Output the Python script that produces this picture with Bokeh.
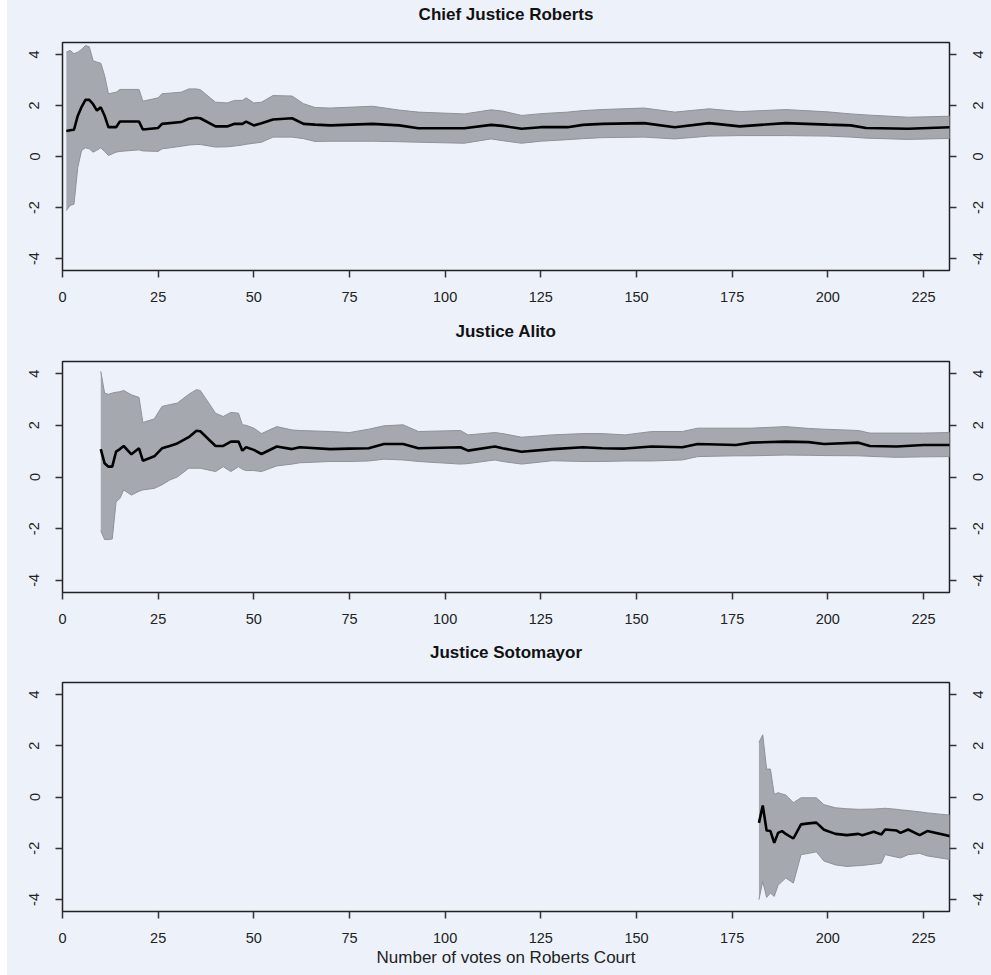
import math
from bokeh.plotting import figure
from bokeh.layouts import column, row
from bokeh.models import Range1d, LinearAxis, FixedTicker, Spacer
from bokeh.core.properties import value
from bokeh.embed import file_html
from bokeh.resources import INLINE

# ---------------- data ----------------
roberts_x = [1, 2, 3, 4, 5, 6, 7, 8, 9, 10, 11, 12, 14, 15, 20, 21, 25, 26, 31, 33, 35, 36,
             40, 43, 45, 47, 48, 50, 52, 55, 60, 63, 66, 70, 81, 88, 93, 105, 112, 115, 120,
             125, 132, 136, 141, 152, 160, 169, 177, 189, 200, 206, 210, 221, 232]
roberts_mean = [1.0, 1.03, 1.05, 1.6, 1.95, 2.22, 2.22, 2.05, 1.8, 1.93, 1.6, 1.15, 1.15, 1.37,
                1.37, 1.06, 1.12, 1.28, 1.35, 1.48, 1.52, 1.5, 1.18, 1.18, 1.28, 1.28, 1.37,
                1.22, 1.3, 1.45, 1.5, 1.28, 1.25, 1.22, 1.28, 1.22, 1.11, 1.11, 1.24, 1.2, 1.09,
                1.15, 1.15, 1.24, 1.28, 1.31, 1.15, 1.31, 1.18, 1.31, 1.25, 1.22, 1.12, 1.09, 1.15]
roberts_hi = [4.09, 4.16, 4.03, 4.09, 4.2, 4.35, 4.3, 3.76, 3.7, 3.66, 3.18, 2.46, 2.52, 2.63,
              2.63, 2.17, 2.3, 2.46, 2.52, 2.65, 2.65, 2.62, 2.13, 2.1, 2.2, 2.2, 2.3, 2.1,
              2.13, 2.39, 2.37, 2.07, 1.92, 1.9, 1.97, 1.82, 1.74, 1.67, 1.83, 1.78, 1.61,
              1.68, 1.74, 1.8, 1.84, 1.9, 1.74, 1.87, 1.76, 1.84, 1.75, 1.67, 1.63, 1.54, 1.58]
roberts_lo = [-2.12, -1.92, -1.87, -0.42, 0.24, 0.34, 0.3, 0.17, 0.25, 0.34, 0.2, 0.04, 0.17,
              0.2, 0.26, 0.22, 0.2, 0.3, 0.4, 0.45, 0.47, 0.47, 0.37, 0.38, 0.41, 0.45, 0.48,
              0.52, 0.56, 0.76, 0.76, 0.7, 0.59, 0.6, 0.6, 0.58, 0.56, 0.52, 0.69, 0.62, 0.52,
              0.6, 0.66, 0.7, 0.74, 0.76, 0.69, 0.8, 0.82, 0.82, 0.8, 0.76, 0.72, 0.67, 0.71]

alito_x = [10, 11, 12, 13, 14, 15, 16, 18, 20, 21, 24, 26, 28, 30, 33, 35, 36, 40, 42, 44, 46,
           47, 48, 50, 52, 56, 60, 62, 70, 75, 80, 84, 89, 93, 104, 106, 113, 115, 120, 128,
           136, 141, 147, 154, 162, 166, 176, 180, 189, 195, 199, 208, 211, 218, 225, 232]
alito_mean = [1.08, 0.53, 0.4, 0.4, 0.98, 1.08, 1.2, 0.88, 1.11, 0.63, 0.8, 1.11, 1.2, 1.3,
              1.54, 1.79, 1.77, 1.2, 1.2, 1.37, 1.37, 1.02, 1.15, 1.05, 0.89, 1.18, 1.08, 1.15,
              1.08, 1.1, 1.11, 1.28, 1.28, 1.11, 1.15, 1.02, 1.18, 1.11, 0.98, 1.08, 1.15, 1.11,
              1.1, 1.18, 1.15, 1.28, 1.24, 1.33, 1.37, 1.35, 1.28, 1.33, 1.2, 1.18, 1.24, 1.24]
alito_hi = [4.09, 3.25, 3.2, 3.25, 3.28, 3.3, 3.35, 3.18, 3.08, 2.11, 2.25, 2.73, 2.8, 2.86,
            3.2, 3.38, 3.35, 2.47, 2.34, 2.5, 2.47, 2.02, 2.0, 1.89, 1.68, 1.95, 1.82, 1.8,
            1.76, 1.72, 1.85, 1.98, 2.02, 1.76, 1.8, 1.63, 1.72, 1.68, 1.54, 1.63, 1.68, 1.68,
            1.63, 1.76, 1.76, 1.89, 1.89, 1.89, 1.95, 1.88, 1.85, 1.8, 1.7, 1.7, 1.7, 1.72]
alito_lo = [-2.08, -2.42, -2.42, -2.4, -0.96, -0.83, -0.5, -0.7, -0.55, -0.5, -0.44, -0.3,
            -0.12, 0.0, 0.34, 0.34, 0.34, 0.21, 0.4, 0.21, 0.4, 0.3, 0.25, 0.25, 0.21, 0.43,
            0.5, 0.55, 0.6, 0.6, 0.62, 0.69, 0.66, 0.6, 0.5, 0.52, 0.66, 0.6, 0.5, 0.63, 0.6,
            0.6, 0.62, 0.62, 0.66, 0.79, 0.82, 0.82, 0.85, 0.84, 0.83, 0.82, 0.8, 0.76, 0.78, 0.79]

soto_x = [182, 183, 184, 185, 186, 187, 188, 189, 191, 193, 195, 197, 199, 202, 205, 208, 209,
          212, 214, 215, 218, 219, 221, 224, 226, 232]
soto_mean = [-1.01, -0.33, -1.31, -1.33, -1.79, -1.4, -1.33, -1.44, -1.62, -1.07, -1.03, -1.0,
             -1.28, -1.44, -1.49, -1.44, -1.49, -1.36, -1.46, -1.27, -1.31, -1.4, -1.27, -1.49,
             -1.33, -1.53]
soto_hi = [2.13, 2.43, 1.09, 1.09, 0.1, 0.17, 0.12, 0.08, -0.22, -0.03, -0.03, -0.03, -0.3,
           -0.42, -0.46, -0.48, -0.48, -0.47, -0.45, -0.44, -0.48, -0.5, -0.53, -0.58, -0.62, -0.71]
soto_lo = [-4.01, -3.29, -3.92, -3.75, -3.88, -3.45, -3.3, -3.16, -3.36, -2.25, -2.2, -2.14,
           -2.5, -2.65, -2.71, -2.68, -2.67, -2.62, -2.58, -2.25, -2.35, -2.38, -2.25, -2.2,
           -2.3, -2.44]

x_ticks = [0, 25, 50, 75, 100, 125, 150, 175, 200, 225]
y_ticks = [-4, -2, 0, 2, 4]
y_tick_labels = ["-4", "-2", "0", "2", "4"]
panel_titles = ["Chief Justice Roberts", "Justice Alito", "Justice Sotomayor"]
x_axis_title = "Number of votes on Roberts Court"

# ---------------- styling ----------------
BG = "#edf2fa"
FONT = "Liberation Sans"
TXT = "#222222"
BAND = "#a5a9af"
BAND_EDGE = "#8e9297"
X_MAX = 231.8
Y_LIM = 4.47
MAIN_W = 956      # main figure width (frame 62..949 on the page)
RIGHT_W = 28      # strip holding the right-hand tick labels


def style_axis(ax, standoff):
    ax.axis_line_color = None
    ax.major_tick_out = 7
    ax.major_tick_in = 0
    ax.minor_tick_out = 0
    ax.minor_tick_in = 0
    ax.major_tick_line_color = "#333333"
    ax.major_tick_line_width = 1.5
    ax.major_label_text_font = FONT
    ax.major_label_text_font_size = "14.5px"
    ax.major_label_text_color = TXT
    ax.major_label_standoff = standoff


def blank_fig(width, height, xr, yr, left, right, top, bottom):
    f = figure(width=width, height=height, x_range=xr, y_range=yr,
               x_axis_type=None, y_axis_type=None,
               output_backend="svg", toolbar_location=None,
               min_border_left=left, min_border_right=right,
               min_border_top=top, min_border_bottom=bottom)
    f.background_fill_color = BG
    f.border_fill_color = BG
    f.outline_line_color = None
    f.grid.visible = False
    return f


def title_strip(title, height):
    t = blank_fig(MAIN_W + RIGHT_W, height, Range1d(0, X_MAX), Range1d(0, 1), 55, 42, 0, 0)
    t.text(x=[X_MAX / 2], y=[0.5], text=[title], text_align="center", text_baseline="middle",
           text_font=value(FONT), text_font_size=value("17px"), text_font_style="bold",
           text_color="#111111")
    return t


def make_panel(xs, mean, lo, hi, height, top, bottom, xlabel=None):
    yr = Range1d(-Y_LIM, Y_LIM)
    p = figure(width=MAIN_W, height=height,
               x_range=Range1d(0, X_MAX), y_range=yr,
               output_backend="svg", toolbar_location=None,
               min_border_left=55, min_border_right=14,
               min_border_top=top, min_border_bottom=bottom)
    p.background_fill_color = BG
    p.border_fill_color = BG
    p.outline_line_color = "#222222"
    p.outline_line_width = 1.5
    p.grid.visible = False

    p.varea(x=xs, y1=lo, y2=hi, fill_color=BAND, fill_alpha=1.0)
    p.line(xs, hi, line_color=BAND_EDGE, line_width=1)
    p.line(xs, lo, line_color=BAND_EDGE, line_width=1)
    p.line(xs, mean, line_color="black", line_width=2.6)

    xa = p.xaxis[0]
    xa.ticker = FixedTicker(ticks=x_ticks)
    style_axis(xa, 14)
    if xlabel:
        xa.axis_label = xlabel
        xa.axis_label_text_font = FONT
        xa.axis_label_text_font_size = "17px"
        xa.axis_label_text_font_style = "normal"
        xa.axis_label_text_color = TXT
        xa.axis_label_standoff = 2

    ya = p.yaxis[0]
    ya.ticker = FixedTicker(ticks=y_ticks)
    style_axis(ya, 16)
    ya.major_label_orientation = "parallel"
    ya.major_label_overrides = dict(zip(y_ticks, y_tick_labels))

    # right axis: tick marks only; its labels are drawn in the strip beside it
    ra = LinearAxis(ticker=FixedTicker(ticks=y_ticks))
    style_axis(ra, 0)
    ra.major_label_overrides = {t: "" for t in y_ticks}
    ra.major_label_text_font_size = "0px"
    p.add_layout(ra, "right")

    r = blank_fig(RIGHT_W, height, Range1d(0, 1), yr, 0, 0, top, bottom)
    r.text(x=[0.5] * len(y_ticks), y=y_ticks, text=y_tick_labels, angle=math.pi / 2,
           text_align="center", text_baseline="middle",
           text_font=value(FONT), text_font_size=value("14.5px"), text_color=TXT)
    return row(p, r, spacing=0, styles={"background-color": BG})


t1 = title_strip(panel_titles[0], 28)
p1 = make_panel(roberts_x, roberts_mean, roberts_lo, roberts_hi, 280, 14, 38)
t2 = title_strip(panel_titles[1], 46)
p2 = make_panel(alito_x, alito_mean, alito_lo, alito_hi, 276, 7, 38)
t3 = title_strip(panel_titles[2], 44)
p3 = make_panel(soto_x, soto_mean, soto_lo, soto_hi, 301, 8, 64, x_axis_title)

col = column(t1, p1, t2, p2, t3, p3, spacing=0, styles={"background-color": BG})
layout = row(Spacer(width=7, height=975, styles={"background-color": "white"}),
             col, spacing=0, styles={"background-color": BG})

open("out.html", "w").write(file_html(layout, INLINE))
